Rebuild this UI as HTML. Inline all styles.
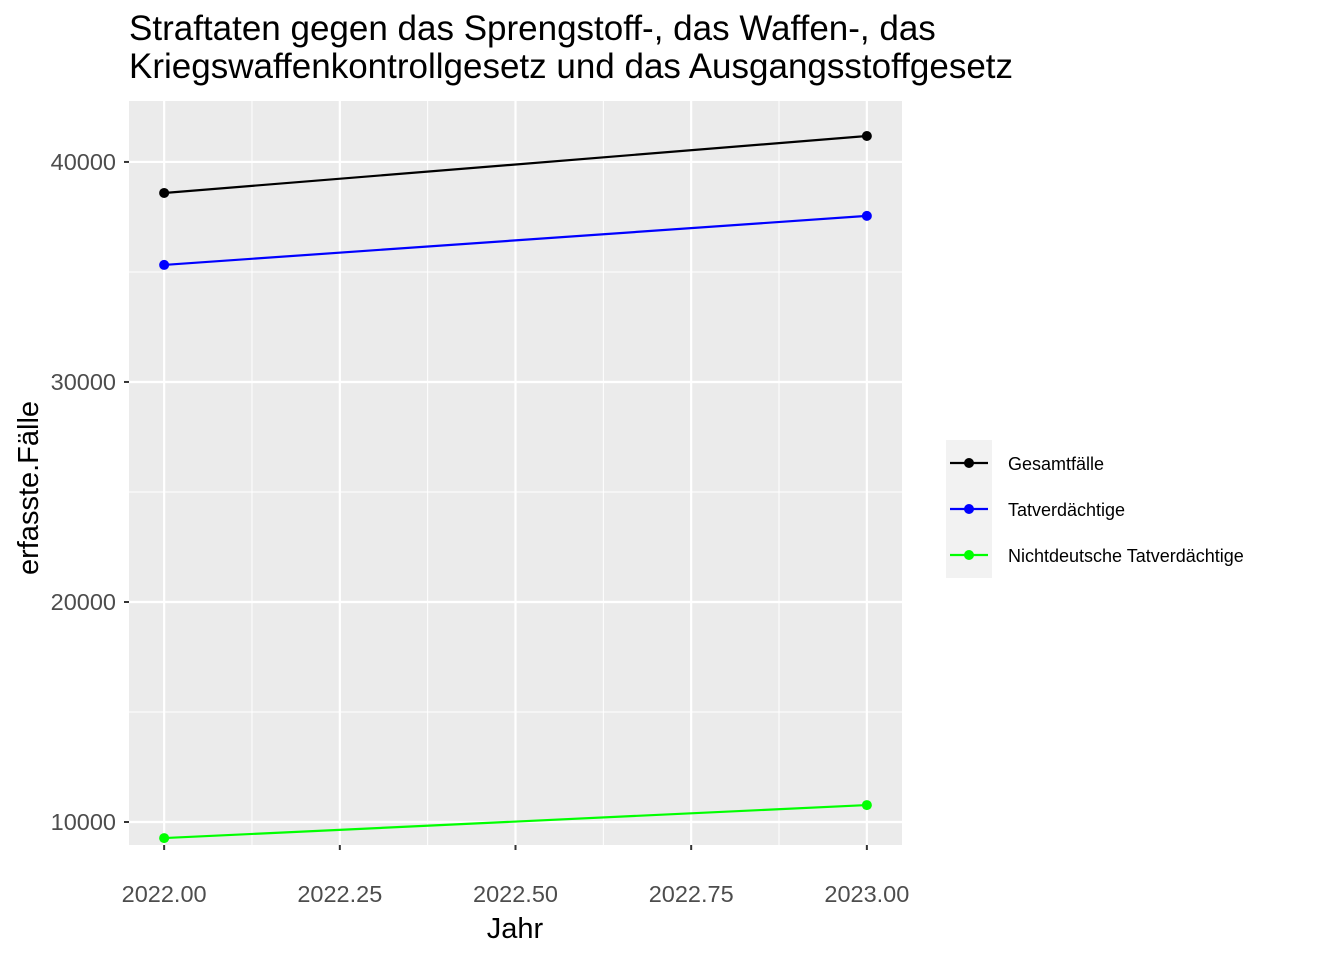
<!DOCTYPE html>
<html><head><meta charset="utf-8"><style>
body{margin:0;background:#fff}
svg text{font-family:"Liberation Sans",sans-serif}
</style></head><body>
<svg id="chart" width="1344" height="960" xmlns="http://www.w3.org/2000/svg">
<text x="129" y="40" font-size="35" fill="#000">Straftaten gegen das Sprengstoff-, das Waffen-, das</text>
<text x="129" y="78" font-size="35" fill="#000">Kriegswaffenkontrollgesetz und das Ausgangsstoffgesetz</text>
<rect x="129" y="101" width="773" height="744" fill="#ebebeb"/>
<g id="grid"></g>
<g id="series"></g>
<g id="axes"></g>
<text x="515" y="938" font-size="29" text-anchor="middle">Jahr</text>
<text transform="translate(38,488) rotate(-90)" font-size="29" text-anchor="middle">erfasste.Fälle</text>
<rect x="946" y="440" width="46" height="138" fill="#f2f2f2"/>
<g id="legend"></g>
</svg>
<script>
const years = [2022, 2023];
const seriesNames = ["Gesamtfälle", "Tatverdächtige", "Nichtdeutsche Tatverdächtige"];
const seriesColors = ["#000000", "#0000ff", "#00ff00"];
const gesamt = [38590, 41180];
const tatverd = [35320, 37550];
const nichtdeutsch = [9270, 10770];
const yTicks = [10000, 20000, 30000, 40000];
const xTicks = [2022, 2022.25, 2022.5, 2022.75, 2023];
const xTickLabels = ["2022.00", "2022.25", "2022.50", "2022.75", "2023.00"];

const NS = "http://www.w3.org/2000/svg";
const px0 = 129, px1 = 902, py0 = 101, py1 = 845;
const xMin = 2021.95, xMax = 2023.05;
const yMin = 8955, yMax = 42770;
const xs = v => px0 + (v - xMin) / (xMax - xMin) * (px1 - px0);
const ys = v => py1 - (v - yMin) / (yMax - yMin) * (py1 - py0);
function mk(tag, attrs, parent) { const e = document.createElementNS(NS, tag); for (const k in attrs) e.setAttribute(k, attrs[k]); parent.appendChild(e); return e; }
const grid = document.getElementById("grid"), axes = document.getElementById("axes"), ser = document.getElementById("series"), leg = document.getElementById("legend");
for (let i = 0; i < yTicks.length; i++) {
  const m = yTicks[i] + 5000;
  if (m < yMax) { const l = mk("line", {x1: px0, x2: px1, y1: ys(m), y2: ys(m), stroke: "#fff", "stroke-width": 1}, grid);
    
     }
}
for (let i = 0; i < xTicks.length - 1; i++) {
  const m = (xTicks[i] + xTicks[i + 1]) / 2;
  const l = mk("line", {x1: xs(m), x2: xs(m), y1: py0, y2: py1, stroke: "#fff", "stroke-width": 1}, grid);
  
  
}
yTicks.forEach(t => {
  const l = mk("line", {x1: px0, x2: px1, y1: ys(t), y2: ys(t), stroke: "#fff", "stroke-width": 2.2}, grid);
  
  
  const tk = mk("line", {x1: px0 - 5, x2: px0, y1: ys(t), y2: ys(t), stroke: "#333", "stroke-width": 2}, axes);
  
  
  const tx = mk("text", {x: px0 - 13, y: ys(t) + 8, "font-size": 23.5, fill: "#4d4d4d", "text-anchor": "end"}, axes);
  tx.textContent = t;
  
  
});
xTicks.forEach((t, i) => {
  const l = mk("line", {x1: xs(t), x2: xs(t), y1: py0, y2: py1, stroke: "#fff", "stroke-width": 2.2}, grid);
  
  
  const tk = mk("line", {x1: xs(t), x2: xs(t), y1: py1, y2: py1 + 5, stroke: "#333", "stroke-width": 2}, axes);
  
  
  const tx = mk("text", {x: xs(t), y: py1 + 57, "font-size": 23.5, fill: "#4d4d4d", "text-anchor": "middle"}, axes);
  tx.textContent = xTickLabels[i];
  
  
});
[gesamt, tatverd, nichtdeutsch].forEach((vals, s) => {
  const pts = vals.map((v, i) => xs(years[i]) + "," + ys(v)).join(" ");
  const pl = mk("polyline", {points: pts, fill: "none", stroke: seriesColors[s], "stroke-width": 2.2}, ser);
  
  
  vals.forEach((v, i) => {
    const c = mk("circle", {cx: xs(years[i]), cy: ys(v), r: 5, fill: seriesColors[s]}, ser);
    
    
  });
  const ly = 463 + s * 46;
  const ll = mk("line", {x1: 950, x2: 988, y1: ly, y2: ly, stroke: seriesColors[s], "stroke-width": 2.2}, leg);
  
  
  const lc = mk("circle", {cx: 969, cy: ly, r: 5, fill: seriesColors[s]}, leg);
  
  
  const lt = mk("text", {x: 1008, y: ly + 7, "font-size": 18, fill: "#000"}, leg);
  lt.textContent = seriesNames[s];
  
  
});
</script>
</body></html>
